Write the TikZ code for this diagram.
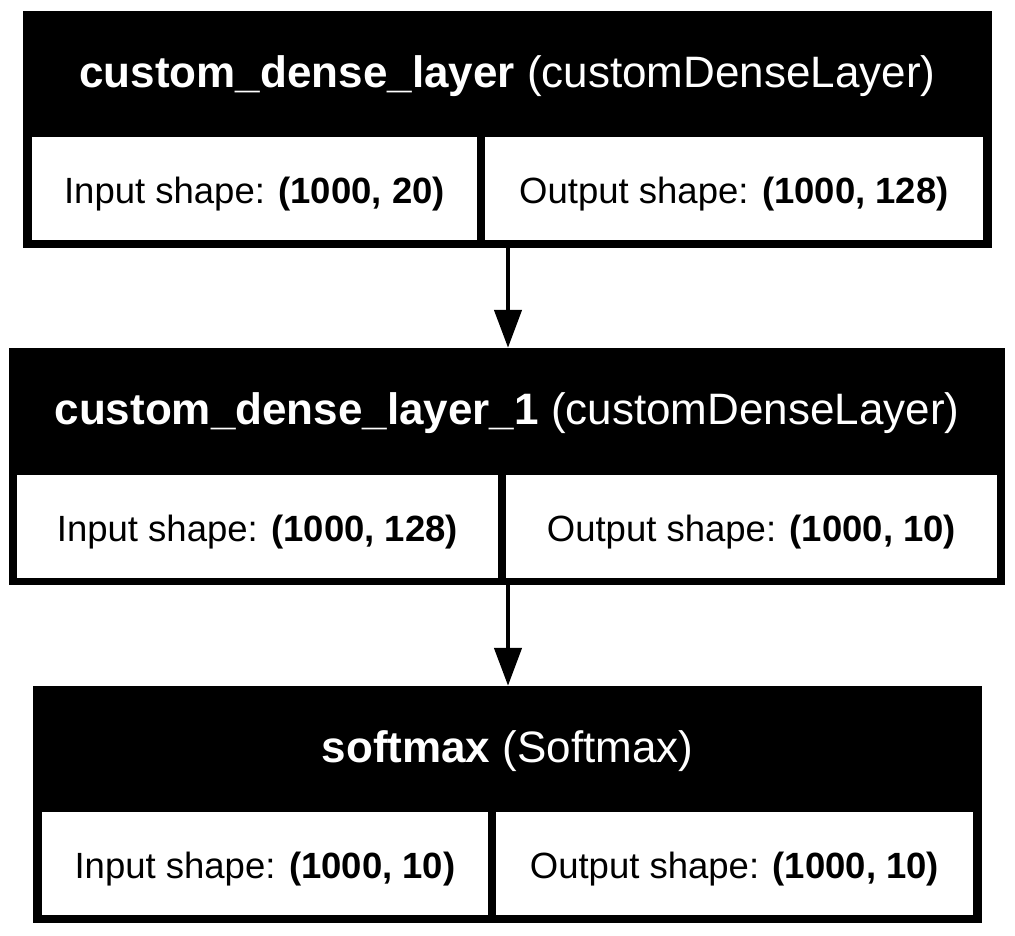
\documentclass[tikz,border=0pt]{standalone}
\usepackage{fontspec}
\setmainfont{Liberation Sans}
\usetikzlibrary{arrows.meta}
\begin{document}
\begin{tikzpicture}[x=1pt,y=-1pt,
  layerbox/.style={fill=black, draw=none, inner sep=0pt, minimum height=237pt},
  shapebox/.style={fill=white, draw=none, inner sep=0pt, minimum height=103pt,
    text height=29pt, text depth=0pt, font=\fontsize{36.5}{40}\selectfont},
  headtext/.style={text=white, inner sep=0pt, text height=26pt, text depth=0pt,
    font=\fontsize{44}{50}\selectfont},
  flow/.style={line width=4.5pt, -{Triangle[length=38pt,width=27pt]}}]
\useasboundingbox (0,0) rectangle (1015,935);
\fill[white] (0,0) rectangle (1015,935);

% layer 1
\node[layerbox, minimum width=969pt] (l1) at (507.5,129.5) {};
\node[headtext] (h1) at (507.5,74) {\textbf{custom\_dense\_layer} (customDenseLayer)};
\node[shapebox, minimum width=445pt] (i1) at (254.5,188.5) {Input shape: \textbf{(1000, 20)}};
\node[shapebox, minimum width=498pt] (o1) at (734,188.5) {Output shape: \textbf{(1000, 128)}};

% layer 2
\node[layerbox, minimum width=996pt] (l2) at (507,466.5) {};
\node[headtext] (h2) at (507,411.5) {\textbf{custom\_dense\_layer\_1} (customDenseLayer)};
\node[shapebox, minimum width=481pt] (i2) at (257.5,526.5) {Input shape: \textbf{(1000, 128)}};
\node[shapebox, minimum width=491pt] (o2) at (751.5,526.5) {Output shape: \textbf{(1000, 10)}};

% layer 3
\node[layerbox, minimum width=949pt] (l3) at (507.5,804.5) {};
\node[headtext] (h3) at (507.5,749) {\textbf{softmax} (Softmax)};
\node[shapebox, minimum width=446pt] (i3) at (265,863.5) {Input shape: \textbf{(1000, 10)}};
\node[shapebox, minimum width=477pt] (o3) at (734.5,863.5) {Output shape: \textbf{(1000, 10)}};

\draw[flow] (l1.south -| 508,0) -- (l2.north -| 508,0);
\draw[flow] (l2.south -| 508,0) -- (l3.north -| 508,0);
\end{tikzpicture}
\end{document}
